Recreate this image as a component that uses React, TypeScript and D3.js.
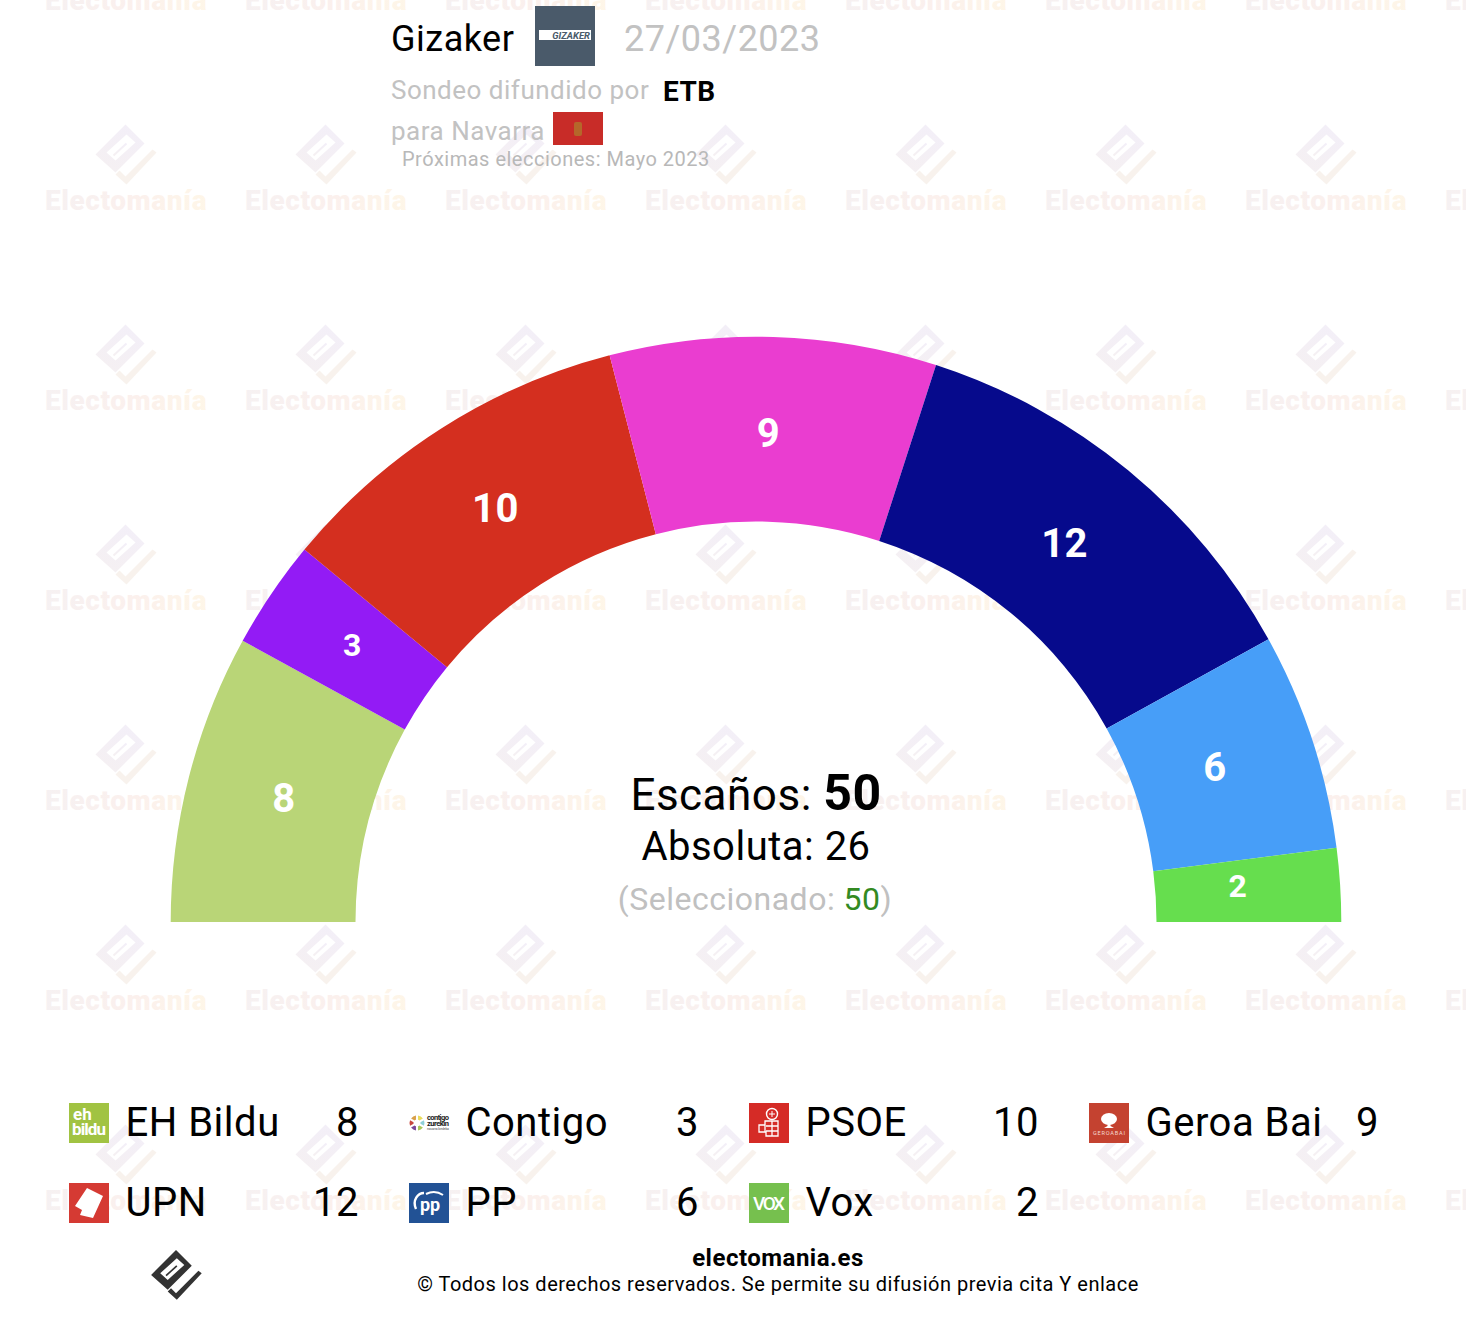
import * as d3 from 'd3'

const parties = ['EH Bildu', 'Contigo', 'PSOE', 'Geroa Bai', 'UPN', 'PP', 'Vox']
const seats = [8, 3, 10, 9, 12, 6, 2]
const colors = ['#b9d577', '#931bf5', '#d42f1f', '#ea3dd0', '#060a8c', '#479ef8', '#66de4e']
const watermarkCols = d3.range(0, 8)
const watermarkRows = d3.range(0, 7)

const width = 1466
const height = 1324
const font = 'Roboto, sans-serif'
const cx = 756
const cy = 922
const outerR = 585.3
const innerR = 400.5

// the original sits a hair counter-clockwise of level, cut flat at the baseline
const tilt = 0.0015
const pie = d3.pie<number>().sort(null).startAngle(-Math.PI / 2 - tilt).endAngle(Math.PI / 2 - tilt)
const arc = d3.arc<d3.PieArcDatum<number>>().innerRadius(innerR).outerRadius(outerR)
const labelArc = d3.arc<d3.PieArcDatum<number>>().innerRadius(485).outerRadius(485)

const colX = d3.scaleLinear().domain([0, 3]).range([69, 1089])
const rowY = d3.scaleLinear().domain([0, 1]).range([1103, 1183])

// electomania mark, origin at the top corner, 60px wide
const markBody = 'M0 0 L19 19 L-10 48 L-30 30 Z M1 10 L-19 28 L-10 36 L10 18 Z'
const markBar = 'M1 19 L-12 31'
const markCheck = 'M27 25 L31 28 L1 60 L-10 50 L-6 46 L0 52 Z'

function Mark({ x, y, body, check, scale = 1 }: { x: number; y: number; body: string; check: string; scale?: number }) {
  return (
    <g transform={`translate(${x},${y}) scale(${scale})`}>
      <path d={markBody} fill={body} fillRule="evenodd" />
      <path d={markBar} stroke={body} strokeWidth={2} />
      <path d={markCheck} fill={check} />
    </g>
  )
}

function PartyIcon({ name, x, y }: { name: string; x: number; y: number }) {
  const t = `translate(${x},${y})`
  if (name === 'EH Bildu') {
    return (
      <g transform={t} letterSpacing={0}>
        <rect width={40} height={40} fill="#a1c342" />
        <text x={4} y={17} fontSize={17} fontWeight={700} fill="#fff" fontFamily={font}>eh</text>
        <text x={3} y={32} fontSize={17} fontWeight={700} fill="#fff" fontFamily={font} textLength={34}>bildu</text>
      </g>
    )
  }
  if (name === 'Contigo') {
    const ringColors = ['#e9dc5c', '#8fd0d8', '#a9c85a', '#7a4a9a', '#c8483f', '#d9a04a']
    const ring = d3.pie<number>().sort(null).padAngle(0.25)(ringColors.map(() => 1))
    const ringArc = d3.arc<d3.PieArcDatum<number>>().innerRadius(3.5).outerRadius(7.5)
    return (
      <g transform={t} letterSpacing={0}>
        <g transform="translate(8,20)">
          {ring.map((d, i) => <path key={i} d={ringArc(d) ?? ''} fill={ringColors[i]} />)}
        </g>
        <text x={18} y={16.5} fontSize={7.5} fontWeight={700} fill="#222" fontFamily={font} textLength={22}>contigo</text>
        <text x={18} y={23} fontSize={7.5} fontWeight={700} fill="#222" fontFamily={font} textLength={22}>zurekin</text>
        <text x={18} y={27} fontSize={3.5} fill="#555" fontFamily={font} textLength={22}>navarra bedeka</text>
      </g>
    )
  }
  if (name === 'PSOE') {
    return (
      <g transform={t}>
        <rect width={40} height={40} fill="#d52b26" />
        <circle cx={23} cy={11} r={5.5} fill="none" stroke="#fff" strokeWidth={1.4} />
        <path d="M20 11 L26 11 M23 8 L23 14" stroke="#fff" strokeWidth={1} />
        <path d="M16 18 L29 18 L29 33 L17 33 L17 29 L10 29 L10 22 L16 22 Z M16 22 L16 29 M17 23 L29 23 M17 28 L29 28 M23 18 L23 33" fill="none" stroke="#fff" strokeWidth={1.3} />
      </g>
    )
  }
  if (name === 'Geroa Bai') {
    return (
      <g transform={t} letterSpacing={0}>
        <rect width={40} height={40} fill="#c44230" />
        <ellipse cx={20} cy={16} rx={8} ry={6} fill="#fff" />
        <path d="M18.5 18 L21.5 18 L21.5 23 L25 25 L15 25 L18.5 23 Z" fill="#fff" />
        <text x={20} y={31.5} fontSize={5.6} fill="#f4d8d2" textAnchor="middle" fontFamily={font} textLength={32}>GEROABAI</text>
      </g>
    )
  }
  if (name === 'UPN') {
    return (
      <g transform={t}>
        <rect width={40} height={40} fill="#d53a33" />
        <path d="M18 5 L34 13 L24 35 L11 32 L13 27 L6 23 Z" fill="#fff" />
      </g>
    )
  }
  if (name === 'PP') {
    return (
      <g transform={t} letterSpacing={0}>
        <rect width={40} height={40} fill="#225295" />
        <path d="M7 26 C3 17 9 10 15 10" fill="none" stroke="#fff" strokeWidth={2.4} />
        <path d="M17 11 C23 8 28 8 34 12" fill="none" stroke="#fff" strokeWidth={2} />
        <text x={21} y={28} fontSize={18} fontWeight={700} fill="#fff" textAnchor="middle" fontFamily={font} textLength={20}>pp</text>
      </g>
    )
  }
  return (
    <g transform={t} letterSpacing={0}>
      <rect width={40} height={40} fill="#76c04e" />
      <text x={20} y={27} fontSize={19} fontWeight={500} fill="#fff" textAnchor="middle" fontFamily={font} textLength={32}>VOX</text>
    </g>
  )
}

export default function App() {
  const arcs = pie(seats)

  return (
    <svg width={width} height={height} viewBox={`0 0 ${width} ${height}`}
      style={{ position: 'absolute', left: 0, top: 0, background: '#fff' }} fontFamily={font} letterSpacing={0.5}>
      <defs>
        <linearGradient id="wmText" x1="0" x2="1" y1="0" y2="0">
          <stop offset="0" stopColor="#f6f1f2" />
          <stop offset="0.55" stopColor="#fbf0ed" />
          <stop offset="1" stopColor="#fef6e8" />
        </linearGradient>
        <linearGradient id="wmBody" x1="0.7" x2="0.2" y1="0" y2="1">
          <stop offset="0" stopColor="#f3eff8" />
          <stop offset="1" stopColor="#f5f0f2" />
        </linearGradient>
        <clipPath id="hemi">
          <rect x={-cx} y={-outerR - 5} width={width} height={outerR + 5} />
        </clipPath>
      </defs>

      {/* watermark */}
      {watermarkRows.map(r => watermarkCols.map(c => (
        <g key={`${r}-${c}`} transform={`translate(${200 * c},${200 * r})`}>
          <Mark x={125.5} y={-75.5} body="url(#wmBody)" check="#f8f2ed" />
          <text x={45} y={10} fontSize={28} fontWeight={900} fill="url(#wmText)" textLength={162}>Electomanía</text>
        </g>
      )))}

      {/* header */}
      <text x={391} y={51} fontSize={36}>Gizaker</text>
      <rect x={535} y={6} width={60} height={60} fill="#4a5a6a" />
      <rect x={539} y={30} width={52} height={10} fill="#fff" />
      <text x={590} y={39} fontSize={9.5} fontWeight={700} fontStyle="italic" fill="#4a5a6a" textAnchor="end" letterSpacing={0}>GIZAKER</text>
      <text x={624} y={51} fontSize={36} fill="#c2c2c2">27/03/2023</text>
      <text x={391} y={99} fontSize={26} fill="#c2c2c2">Sondeo difundido por</text>
      <text x={663} y={101} fontSize={28} fontWeight={700}>ETB</text>
      <text x={391} y={140} fontSize={26} fill="#c2c2c2">para Navarra</text>
      <rect x={553} y={112} width={50} height={33} fill="#c82c28" />
      <rect x={574} y={122} width={8} height={14} rx={2} fill="#b5672a" />
      <text x={402} y={166} fontSize={20} fill="#b8b8b8">Próximas elecciones: Mayo 2023</text>

      {/* hemicycle */}
      <g transform={`translate(${cx},${cy})`}>
        <g clipPath="url(#hemi)">
          {arcs.map((d, i) => (
            <path key={parties[i]} fill={colors[i]}
              d={arc(i === arcs.length - 1 ? { ...d, endAngle: Math.PI / 2 } : d) ?? ''} />
          ))}
        </g>
        {arcs.map((d, i) => {
          const [x, y] = labelArc.centroid(d)
          const small = d.value < 5
          return (
            <text key={parties[i]} x={x + (d.value < 10 ? -2 : 0)} y={y + (small ? 6 : 9.5)} textAnchor="middle"
              fontSize={small ? 32 : 40} fontWeight={700} fill="#fff">
              {d.value}
            </text>
          )
        })}
      </g>

      {/* totals */}
      <text x={756} y={810} fontSize={44} textAnchor="middle">
        Escaños: <tspan fontSize={50} fontWeight={700}>{d3.sum(seats)}</tspan>
      </text>
      <text x={756} y={860} fontSize={40} textAnchor="middle">Absoluta: {Math.floor(d3.sum(seats) / 2) + 1}</text>
      <text x={755} y={910} fontSize={32} textAnchor="middle" fill="#c0c0c0">
        (Seleccionado: <tspan fill="#338a22">{d3.sum(seats)}</tspan>)
      </text>

      {/* legend */}
      {parties.map((p, i) => {
        const x = colX(i % 4)
        const y = rowY(Math.floor(i / 4))
        return (
          <g key={p}>
            <PartyIcon name={p} x={x} y={y} />
            <text x={x + 56.5} y={y + 33} fontSize={40}>{p}</text>
            <text x={x + 290} y={y + 33} fontSize={40} textAnchor="end">{seats[i]}</text>
          </g>
        )
      })}

      {/* footer */}
      <Mark x={176} y={1250} body="#333" check="#333" scale={0.83} />
      <text x={778} y={1266} fontSize={24} fontWeight={700} textAnchor="middle">electomania.es</text>
      <text x={778} y={1291} fontSize={20} textAnchor="middle">© Todos los derechos reservados. Se permite su difusión previa cita Y enlace</text>
    </svg>
  )
}
